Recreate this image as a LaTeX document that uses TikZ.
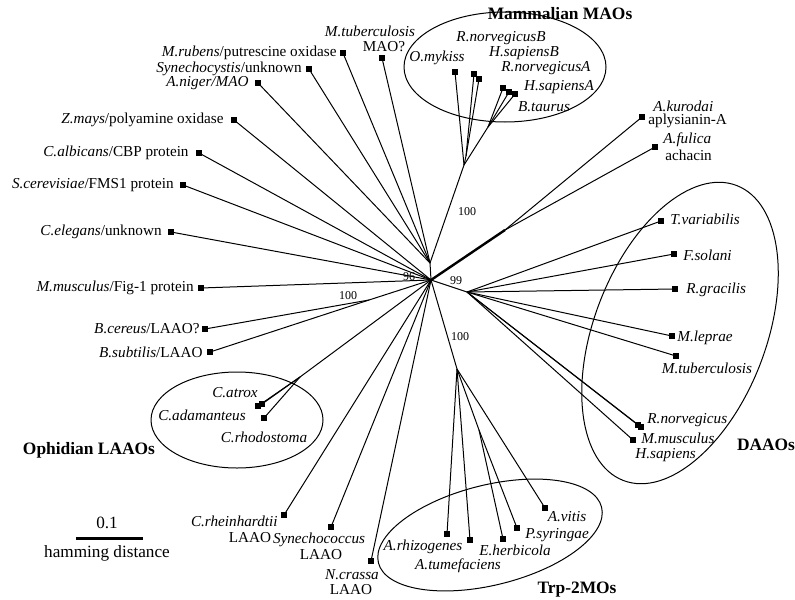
\documentclass[tikz,border=0pt]{standalone}
\usepackage{fontspec}
\setmainfont{Liberation Serif}
\begin{document}
\begin{tikzpicture}[x=0.5pt,y=-0.5pt,
  sq/.style={fill=black,minimum size=2.8pt,inner sep=0pt,outer sep=0pt},
  lab/.style={font=\fontsize{7.6}{8.5}\selectfont,inner sep=0.5pt},
  sclab/.style={font=\fontsize{8.6}{9.5}\selectfont,inner sep=0.5pt},
  grp/.style={font=\fontsize{8.7}{9.5}\selectfont\bfseries,inner sep=0pt},
  bs/.style={font=\fontsize{6}{7}\selectfont,inner sep=0pt},
  br/.style={line width=0.5pt},
  thk/.style={line width=1.2pt},
  ell/.style={line width=0.5pt}]
\useasboundingbox (0,0) rectangle (795,599);
% internal nodes
\coordinate (c0) at (431,280);
\coordinate (cu) at (430,263);
\coordinate (m1) at (464,165);
\coordinate (mb) at (466,156);
\coordinate (ma) at (488,127);
\coordinate (d1) at (467,292);
\coordinate (t1) at (457,369);
\coordinate (t2) at (479,430);
\coordinate (b1) at (369,300);
\coordinate (o1) at (300,377);
\coordinate (k1) at (505,230);
% leaves upper-left
\node[sq] (mrub) at (343,53) {};
\node[lab,anchor=east] (lmrub) at (338,53) {\textit{M.rubens}/putrescine oxidase};
\node[sq] (syny) at (309,69) {};
\node[lab,anchor=east] (lsyny) at (303,69) {\textit{Synechocystis}/unknown};
\node[sq] (anig) at (258,83) {};
\node[lab,anchor=east] (lanig) at (250,83) {\textit{A.niger/MAO}};
\node[sq] (zmay) at (234,120) {};
\node[lab,anchor=east] (lzmay) at (225,120) {\textit{Z.mays}/polyamine oxidase};
\node[sq] (calb) at (199,153) {};
\node[lab,anchor=east] (lcalb) at (190,153) {\textit{C.albicans}/CBP protein};
\node[sq] (scer) at (183,185) {};
\node[lab,anchor=east] (lscer) at (175,185) {\textit{S.cerevisiae}/FMS1 protein};
\node[sq] (cele) at (171,232) {};
\node[lab,anchor=east] (lcele) at (163,232) {\textit{C.elegans}/unknown};
\node[sq] (mmus) at (201,288) {};
\node[lab,anchor=east] (lmmus) at (195,288) {\textit{M.musculus}/Fig-1 protein};
\node[sq] (bcer) at (205,329) {};
\node[lab,anchor=east] (lbcer) at (201,329) {\textit{B.cereus}/LAAO?};
\node[sq] (bsub) at (210,352) {};
\node[lab,anchor=east] (lbsub) at (204,352) {\textit{B.subtilis}/LAAO};
\node[sq] (mtub) at (382,58) {};
\node[lab] (lmtub) at (370,31) {\textit{M.tuberculosis}};
\node[lab] (lmtub2) at (384,47) {MAO?};
% mammalian MAOs
\node[sq] (omyk) at (455,72) {};
\node[lab] (lomyk) at (437,58) {\textit{O.mykiss}};
\node[sq] (rnob) at (474,74) {};
\node[lab] (lrnob) at (501,38) {\textit{R.norvegicusB}};
\node[sq] (hsab) at (479,79) {};
\node[lab] (lhsab) at (524,53) {\textit{H.sapiensB}};
\node[sq] (rnoa) at (503,88) {};
\node[lab] (lrnoa) at (546,68) {\textit{R.norvegicusA}};
\node[sq] (hsaa) at (509,92) {};
\node[lab] (lhsaa) at (559,87) {\textit{H.sapiensA}};
\node[sq] (btau) at (515,94) {};
\node[lab] (lbtau) at (544,107) {\textit{B.taurus}};
\draw[ell] (505,67) ellipse [x radius=50.5pt, y radius=27.5pt];
\node[grp] (gmam) at (560,14) {Mammalian MAOs};
% aplysianin / achacin
\node[sq] (akur) at (642,117) {};
\node[lab,anchor=west] (lakur) at (652,106) {\textit{A.kurodai}};
\node[lab,anchor=west] (lakur2) at (647,121) {aplysianin-A};
\node[sq] (aful) at (655,147) {};
\node[lab,anchor=west] (laful) at (662,140) {\textit{A.fulica}};
\node[lab,anchor=west] (laful2) at (664,155) {achacin};
% DAAOs
\node[sq] (tvar) at (661,221) {};
\node[lab,anchor=west] (ltvar) at (669,219) {\textit{T.variabilis}};
\node[sq] (fsol) at (674,254) {};
\node[lab,anchor=west] (lfsol) at (682,255) {\textit{F.solani}};
\node[sq] (rgra) at (675,289) {};
\node[lab,anchor=west] (lrgra) at (685,290) {\textit{R.gracilis}};
\node[sq] (mlep) at (672,336) {};
\node[lab,anchor=west] (lmlep) at (676,338) {\textit{M.leprae}};
\node[sq] (mtb2) at (676,356) {};
\node[lab] (lmtb2) at (707,368) {\textit{M.tuberculosis}};
\node[sq] (rnor) at (638,425) {};
\node[sq] (mmu2) at (641,427) {};
\node[sq] (hsap) at (633,440) {};
\node[lab,anchor=west] (lrnor) at (646,420) {\textit{R.norvegicus}};
\node[lab,anchor=west] (lmmu2) at (640,438) {\textit{M.musculus}};
\node[lab,anchor=west] (lhsap) at (634,455) {\textit{H.sapiens}};
\draw[ell,rotate around={69:(680,333)}] (680,333) ellipse [x radius=79pt, y radius=43pt];
\node[grp] (gdaao) at (766,445) {DAAOs};
% ophidian
\node[sq] (catr) at (258,406) {};
\node[sq] (cada) at (262,404) {};
\node[sq] (crho) at (264,418) {};
\node[lab] (lcatr) at (235,393) {\textit{C.atrox}};
\node[lab] (lcada) at (202,415) {\textit{C.adamanteus}};
\node[lab] (lcrho) at (264,437) {\textit{C.rhodostoma}};
\draw[ell] (237,420) ellipse [x radius=43pt, y radius=24pt];
\node[grp] (goph) at (89,450) {Ophidian LAAOs};
% bottom LAAOs
\node[sq] (crhe) at (284,515) {};
\node[lab,anchor=east] (lcrhe) at (279,521) {\textit{C.rheinhardtii}};
\node[lab] (lcrhe2) at (250,538) {LAAO};
\node[sq] (syne) at (331,527) {};
\node[lab] (lsyne) at (319,540) {\textit{Synechococcus}};
\node[lab] (lsyne2) at (321,555) {LAAO};
\node[sq] (ncra) at (371,561) {};
\node[lab] (lncra) at (352,575) {\textit{N.crassa}};
\node[lab] (lncra2) at (351,590) {LAAO};
% Trp-2MOs
\node[sq] (arhi) at (447,534) {};
\node[lab] (larhi) at (423,547) {\textit{A.rhizogenes}};
\node[sq] (atum) at (470,540) {};
\node[lab] (latum) at (458,566) {\textit{A.tumefaciens}};
\node[sq] (eher) at (503,539) {};
\node[lab] (leher) at (515,550) {\textit{E.herbicola}};
\node[sq] (psyr) at (517,528) {};
\node[lab] (lpsyr) at (557,535) {\textit{P.syringae}};
\node[sq] (avit) at (545,508) {};
\node[lab] (lavit) at (567,517) {\textit{A.vitis}};
\draw[ell,rotate around={14:(490,535)}] (490,535) ellipse [x radius=57.5pt, y radius=25pt];
\node[grp] (gtrp) at (577,590) {Trp-2MOs};
% branches
\draw[br] (c0) -- (cu);
\foreach \n in {mrub,syny,anig,mtub} \draw[br] (cu) -- (\n);
\draw[br] (cu) -- (m1);
\draw[br] (m1) -- (omyk);
\draw[br] (m1) -- (mb);
\draw[br] (mb) -- (rnob);
\draw[br] (mb) -- (hsab);
\draw[br] (m1) -- (ma);
\foreach \n in {rnoa,hsaa,btau} \draw[br] (ma) -- (\n);
\foreach \n in {zmay,calb,scer,cele,mmus} \draw[br] (c0) -- (\n);
\draw[br] (c0) -- (b1);
\draw[br] (b1) -- (bcer);
\draw[br] (b1) -- (bsub);
\draw[br] (c0) -- (o1);
\foreach \n in {catr,cada,crho} \draw[br] (o1) -- (\n);
\foreach \n in {crhe,syne,ncra} \draw[br] (c0) -- (\n);
\draw[br] (c0) -- (t1);
\foreach \n in {arhi,atum,avit} \draw[br] (t1) -- (\n);
\draw[br] (t1) -- (t2);
\draw[br] (t2) -- (eher);
\draw[br] (t2) -- (psyr);
\draw[br] (c0) -- (d1);
\foreach \n in {tvar,fsol,rgra,mlep,mtb2,rnor,mmu2,hsap} \draw[br] (d1) -- (\n);
\draw[thk] (c0) -- (k1);
\draw[br] (k1) -- (akur);
\draw[br] (k1) -- (aful);
% bootstrap values
\node[bs] (v1) at (467,212) {100};
\node[bs] (v2) at (409,277) {96};
\node[bs] (v3) at (456,281) {99};
\node[bs] (v4) at (348,296) {100};
\node[bs] (v5) at (460,337) {100};
% scale bar
\coordinate (sb1) at (76,538);
\coordinate (sb2) at (143,538);
\draw[line width=1.5pt] (sb1) -- (sb2);
\node[sclab] (lsb) at (107,523) {0.1};
\node[sclab] (lsb2) at (107,553) {hamming distance};
\end{tikzpicture}
\end{document}
